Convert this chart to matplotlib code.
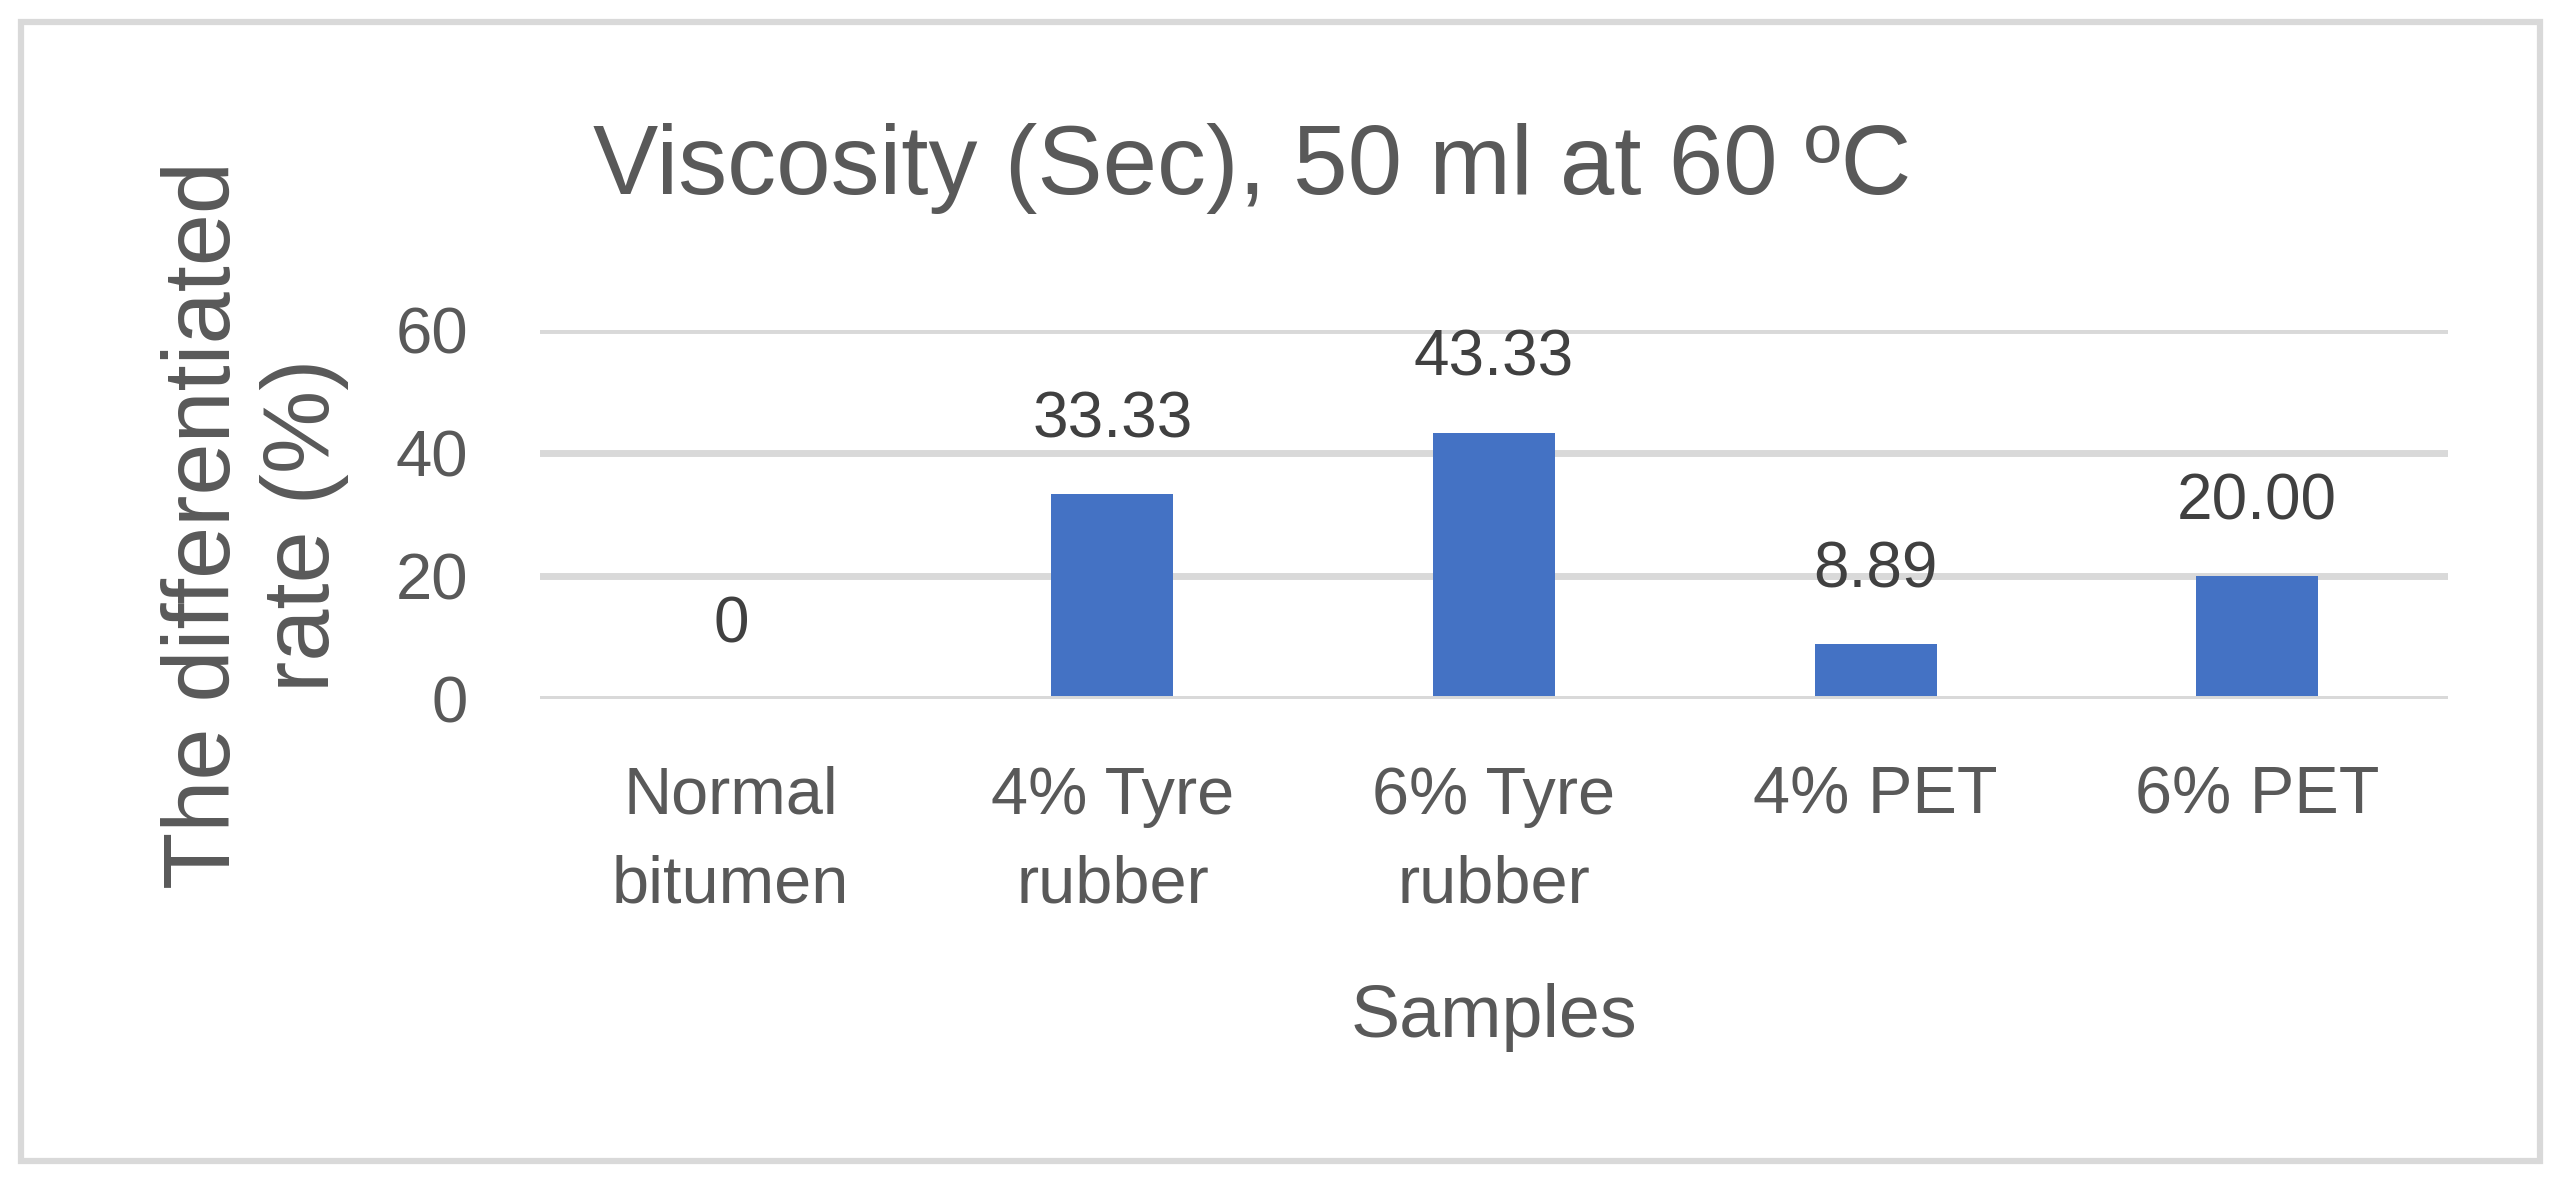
import matplotlib
matplotlib.use("Agg")
import matplotlib.pyplot as plt
from matplotlib.patches import Rectangle

# data
samples = ["Normal\nbitumen", "4% Tyre\nrubber", "6% Tyre\nrubber", "4% PET", "6% PET"]
rates = [0, 33.33, 43.33, 8.89, 20.00]
rate_labels = ["0", "33.33", "43.33", "8.89", "20.00"]
yticks = [0, 20, 40, 60]

W, H = 2564, 1179
plt.rcParams['font.family'] = ['Liberation Sans', 'DejaVu Sans']
txt = "#595959"

fig = plt.figure(figsize=(W / 100, H / 100), dpi=100)
fig.patch.set_facecolor("white")

# outer chart border
fig.patches.append(Rectangle((20.5 / W, 1 - 1161 / H), (2540 - 20.5) / W, (1161 - 21.5) / H,
                             transform=fig.transFigure, fill=False,
                             edgecolor="#D9D9D9", linewidth=4.5))

ax = fig.add_axes([540 / W, 1 - 699 / H, 1908 / W, 369 / H])
x = list(range(len(samples)))
ax.bar(x, rates, width=0.32, color="#4472C4", zorder=2)
ax.set_xlim(-0.5, len(samples) - 0.5)
ax.set_ylim(0, 60)
ax.set_yticks(yticks)
ax.set_xticks(x)
ax.set_xticklabels(samples, linespacing=1.55)
ax.yaxis.grid(True, color="#D9D9D9", linewidth=5, zorder=1)
ax.axhline(0, color="#D9D9D9", linewidth=5, zorder=3)
ax.set_axisbelow(True)
for s in ax.spines.values():
    s.set_visible(False)
ax.tick_params(axis="y", length=0, pad=52, labelsize=47, labelcolor=txt)
ax.tick_params(axis="x", length=0, pad=48, labelsize=48, labelcolor=txt)

for xi, v, lab in zip(x, rates, rate_labels):
    ax.annotate(lab, (xi, v), xytext=(0, 41), textcoords="offset points",
                ha="center", va="baseline", fontsize=46, color="#404040")

fig.text(1252 / W, 1 - 194 / H, "Viscosity (Sec), 50 ml at 60 ºC",
         ha="center", va="baseline", fontsize=70.5, color=txt)
fig.text(1494 / W, 1 - 1037 / H, "Samples", ha="center", va="baseline",
         fontsize=53, color=txt)
fig.text(255 / W, 1 - 525 / H, "The differentiated\nrate (%)", rotation=90,
         ha="center", va="center", multialignment="center",
         fontsize=67.5, color=txt, linespacing=1.15)

fig.savefig("out.png", dpi=100)
